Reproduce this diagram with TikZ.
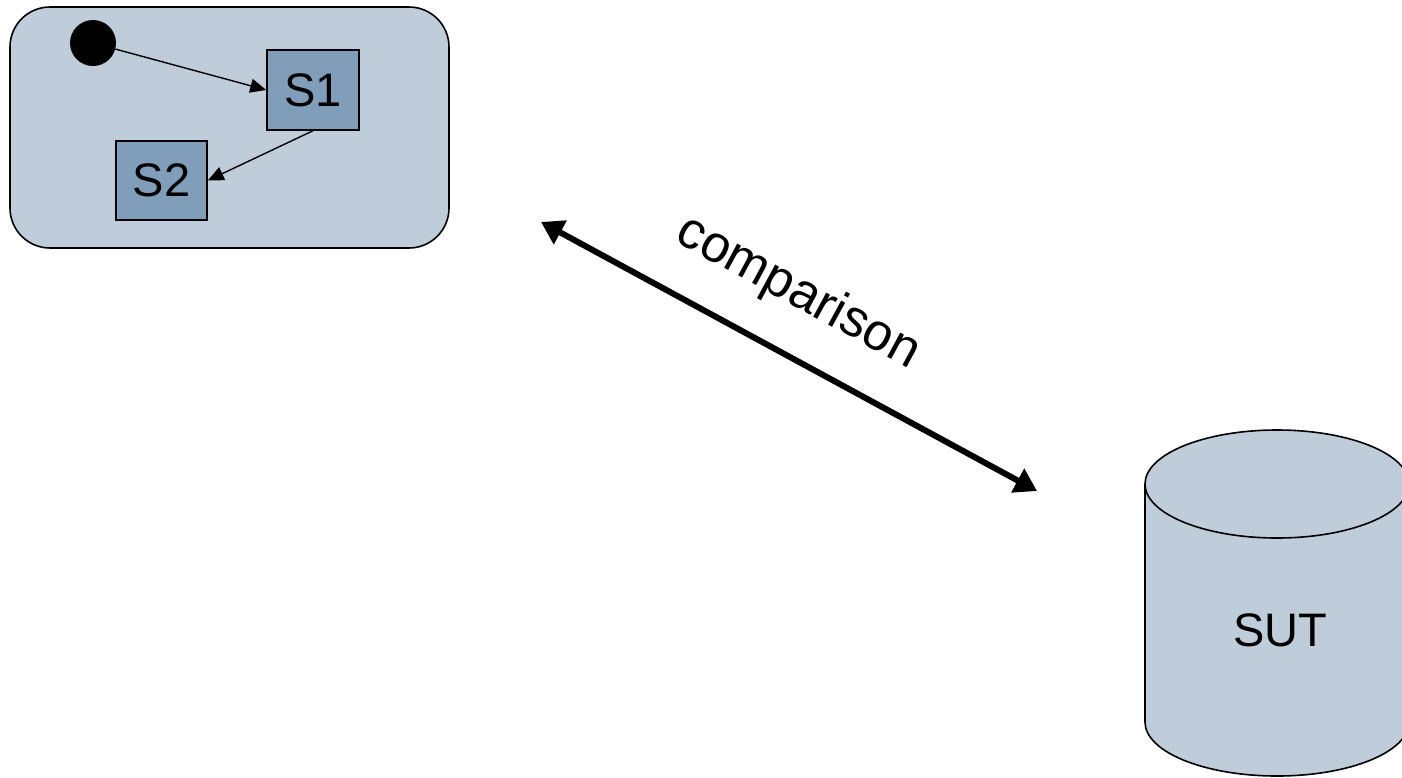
\documentclass[tikz,border=0pt]{standalone}
\usepackage{fontspec}
\setmainfont{Liberation Sans}
\usetikzlibrary{arrows.meta}
\definecolor{lightfill}{RGB}{191,205,219}
\definecolor{darkfill}{RGB}{128,157,185}
\tikzset{
  statebox/.style={draw=black, line width=1.5pt, fill=darkfill, inner sep=0pt, font=\fontsize{47}{50}\selectfont},
  smallarrow/.style={draw=black, line width=1.4pt, -{Triangle[length=16pt,width=14pt]}},
  bigarrow/.style={draw=black, line width=6pt, {Triangle[length=22pt,width=26pt]}-{Triangle[length=22pt,width=26pt]}},
  biglabel/.style={font=\fontsize{52}{56}\selectfont, inner sep=0pt}
}
\begin{document}
\begin{tikzpicture}[x=1pt,y=-1pt]
\useasboundingbox (0,0) rectangle (1402,777);
\clip (0,0) rectangle (1402,777);
\fill[white] (0,0) rectangle (1402,777);
% state machine container
\node[draw=black, line width=1.6pt, fill=lightfill, rounded corners=40pt, minimum width=439pt, minimum height=241pt, inner sep=0pt] (machine) at (229.5,127.5) {};
\node[circle, fill=black, minimum size=46pt, inner sep=0pt] (init) at (93,43) {};
\node[statebox, minimum width=92pt, minimum height=80pt] (S1) at (313,90) {S1};
\node[statebox, minimum width=91pt, minimum height=79pt] (S2) at (161.5,180.5) {S2};
\draw[smallarrow] (init) -- (S1.west);
\draw[smallarrow] (S1.south) -- (S2.east);
% comparison arrow
\coordinate (ca) at (541,222);
\coordinate (cb) at (1037,491);
\draw[bigarrow] (ca) -- (cb);
\node[biglabel, rotate=-28.47] (cmp) at (798,293) {comparison};
% cylinder SUT
\path[draw=black, line width=1.6pt, fill=lightfill] (1145,484) -- (1145,722) arc[start angle=180, end angle=0, x radius=132, y radius=54] -- (1409,484) arc[start angle=0, end angle=-180, x radius=132, y radius=54] -- cycle;
\draw[line width=1.6pt] (1145,484) arc[start angle=180, end angle=0, x radius=132, y radius=54];
\node[biglabel, font=\fontsize{47}{50}\selectfont] (SUT) at (1280,630) {SUT};
\end{tikzpicture}
\end{document}
